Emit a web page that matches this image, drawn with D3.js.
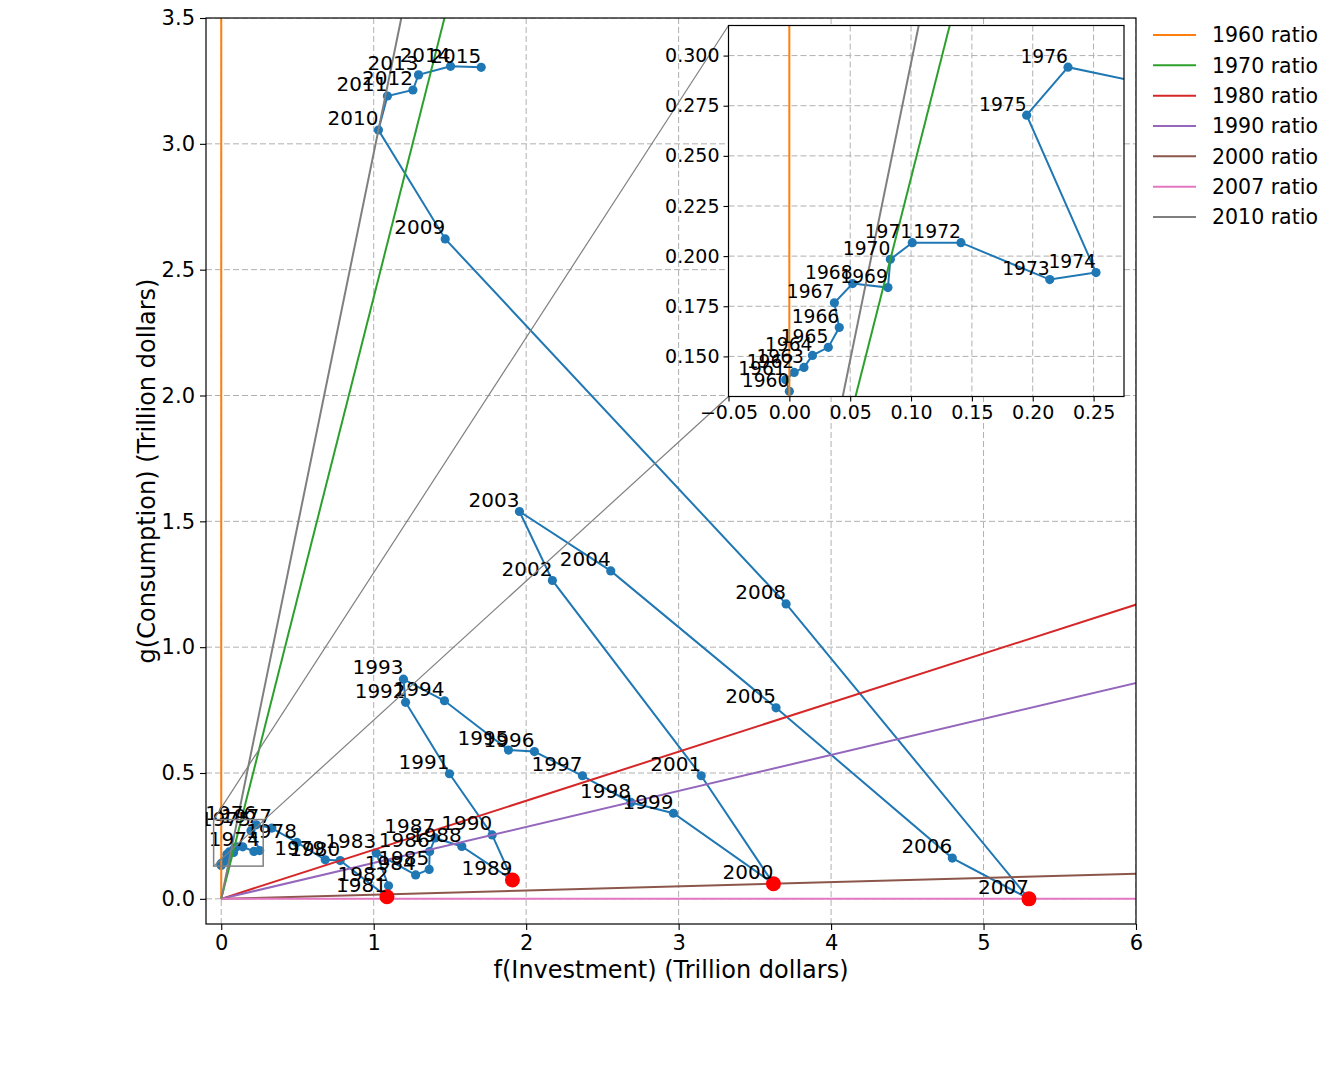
<!DOCTYPE html>
<html>
<head>
<meta charset="utf-8">
<script src="https://cdn.jsdelivr.net/npm/d3@7"></script>
<style>
  body { margin: 0; background: #ffffff; }
  svg { font-family: 'DejaVu Sans', sans-serif; }
</style>
</head>
<body>
<div id="chart"></div>
<script>
const years = [1960, 1961, 1962, 1963, 1964, 1965, 1966, 1967, 1968, 1969,
    1970, 1971, 1972, 1973, 1974, 1975, 1976, 1977, 1978, 1979,
    1980, 1981, 1982, 1983, 1984, 1985, 1986, 1987, 1988, 1989,
    1990, 1991, 1992, 1993, 1994, 1995, 1996, 1997, 1998, 1999,
    2000, 2001, 2002, 2003, 2004, 2005, 2006, 2007, 2008, 2009,
    2010, 2011, 2012, 2013, 2014, 2015];

// f(Investment), trillion dollars
const investment = [0.000, -0.003, 0.004, 0.012, 0.019, 0.032, 0.041, 0.037, 0.052, 0.081,
    0.083, 0.101, 0.141, 0.214, 0.252, 0.195, 0.229, 0.332, 0.496, 0.682,
    0.780, 1.087, 1.097, 1.016, 1.275, 1.364, 1.367, 1.403, 1.578, 1.910,
    1.777, 1.497, 1.209, 1.195, 1.464, 1.884, 2.054, 2.369, 2.687, 2.966,
    3.622, 3.148, 2.172, 1.956, 2.555, 3.639, 4.795, 5.298, 3.705, 1.469,
    1.031, 1.090, 1.257, 1.294, 1.504, 1.705];

// g(Consumption), trillion dollars
const consumption = [0.1326, 0.1384, 0.1420, 0.1445, 0.1505, 0.1545, 0.1644, 0.1767, 0.1863, 0.1843,
    0.1984, 0.2067, 0.2067, 0.1883, 0.1918, 0.2703, 0.2942, 0.281, 0.224, 0.155,
    0.152, 0.008, 0.052, 0.182, 0.095, 0.117, 0.188, 0.242, 0.208, 0.075,
    0.254, 0.497, 0.781, 0.873, 0.787, 0.591, 0.585, 0.489, 0.383, 0.340,
    0.060, 0.489, 1.265, 1.539, 1.303, 0.759, 0.162, 0.000, 1.172, 2.622,
    3.055, 3.190, 3.214, 3.274, 3.308, 3.304];

const ratioYears = [1960, 1970, 1980, 1990, 2000, 2007, 2010];
const ratioColors = ['#ff7f0e', '#2ca02c', '#d62728', '#9467bd', '#8c564b', '#e377c2', '#7f7f7f'];
const redYears = [1981, 1989, 2000, 2007];
// the main panel only names the years from here on, the inset has the rest
const mainLabelFrom = 1974;

const mainXTicks = [0, 1, 2, 3, 4, 5, 6];
const mainYTicks = [0, 0.5, 1.0, 1.5, 2.0, 2.5, 3.0, 3.5];
const insetXTicks = [-0.05, 0, 0.05, 0.10, 0.15, 0.20, 0.25];
const insetYTicks = [0.150, 0.175, 0.200, 0.225, 0.250, 0.275, 0.300];

const xLabel = 'f(Investment) (Trillion dollars)';
const yLabel = 'g(Consumption) (Trillion dollars)';

const points = years.map((yr, i) => ({year: yr, x: investment[i], y: consumption[i]}));
const byYear = new Map(points.map((p) => [p.year, p]));

const svg = d3.select('#chart').append('svg')
    .attr('version', 1.1)
    .attr('xmlns', 'http://www.w3.org/2000/svg')
    .attr('width', 1338)
    .attr('height', 1084);

svg.append('rect').attr('width', 1338).attr('height', 1084).attr('fill', '#ffffff');

const mainBox = {left: 206, top: 18, width: 930, height: 906};
const insetBox = {left: 728.5, top: 25.5, width: 395.5, height: 371};

const x = d3.scaleLinear().domain([-0.1, 6]).range([0, mainBox.width]);
const y = d3.scaleLinear().domain([-0.1, 3.5]).range([mainBox.height, 0]);
const xi = d3.scaleLinear().domain([-0.05, 0.275]).range([0, insetBox.width]);
const yi = d3.scaleLinear().domain([0.13, 0.315]).range([insetBox.height, 0]);

function ratioEnd(p) {
    if (p.x === 0) return {x: 0, y: 10};
    if (p.y === 0) return {x: 10, y: 0};
    let t = 10 / Math.max(p.x, p.y);
    return {x: p.x * t, y: p.y * t};
}

function inside(sx, sy, d) {
    let [x0, x1] = sx.domain(), [y0, y1] = sy.domain();
    return d.x >= x0 && d.x <= x1 && d.y >= y0 && d.y <= y1;
}

function panel(id, box, sx, sy, xt, yt, fmt) {
    let g = svg.append('g')
        .attr('transform', 'translate(' + box.left + ',' + box.top + ')');

    svg.append('clipPath').attr('id', id)
        .append('rect').attr('width', box.width).attr('height', box.height);

    g.append('rect')
        .attr('width', box.width)
        .attr('height', box.height)
        .attr('fill', '#ffffff');

    let body = g.append('g').attr('clip-path', 'url(#' + id + ')');

    body.selectAll('.vgrid').data(xt).enter().append('line')
        .attr('x1', sx).attr('x2', sx)
        .attr('y1', 0).attr('y2', box.height)
        .attr('stroke', '#b0b0b0').attr('stroke-width', 1)
        .attr('stroke-dasharray', '6,3');

    body.selectAll('.hgrid').data(yt).enter().append('line')
        .attr('y1', sy).attr('y2', sy)
        .attr('x1', 0).attr('x2', box.width)
        .attr('stroke', '#b0b0b0').attr('stroke-width', 1)
        .attr('stroke-dasharray', '6,3');

    let line = d3.line()
        .x((d) => sx(d.x))
        .y((d) => sy(d.y));

    body.append('path').datum(points)
        .attr('fill', 'none')
        .attr('stroke', '#1f77b4')
        .attr('stroke-width', 2)
        .attr('d', line);

    body.selectAll('.pt').data(points).enter().append('circle')
        .attr('cx', (d) => sx(d.x))
        .attr('cy', (d) => sy(d.y))
        .attr('r', 4.6)
        .attr('fill', '#1f77b4');

    ratioYears.forEach((yr, i) => {
        let p = byYear.get(yr);
        body.append('path').datum([{x: 0, y: 0}, ratioEnd(p)])
            .attr('fill', 'none')
            .attr('stroke', ratioColors[i])
            .attr('stroke-width', 2)
            .attr('d', line);
    });

    body.selectAll('.red').data(redYears.map((yr) => byYear.get(yr))).enter().append('circle')
        .attr('cx', (d) => sx(d.x))
        .attr('cy', (d) => sy(d.y))
        .attr('r', 7.5)
        .attr('fill', '#ff0000');

    body.selectAll('.lab')
        .data(points.filter((d) => d.year >= fmt.labelFrom && inside(sx, sy, d)))
        .enter().append('text')
        .attr('x', (d) => sx(d.x))
        .attr('y', (d) => sy(d.y) - 0.236 * fmt.labelSize)
        .attr('text-anchor', 'end')
        .attr('font-size', fmt.labelSize)
        .attr('fill', '#000000')
        .text((d) => d.year);

    let bottom = g.append('g')
        .attr('transform', 'translate(0,' + box.height + ')')
        .call(d3.axisBottom(sx).tickValues(xt).tickFormat(d3.format(fmt.xfmt))
            .tickSize(fmt.tickLen).tickPadding(fmt.tickPad).tickSizeOuter(0))
        .attr('font-family', 'DejaVu Sans')
        .attr('font-size', fmt.tickSize);
    bottom.select('.domain').remove();
    bottom.selectAll('.tick line').attr('stroke-width', 1.1);

    let left = g.append('g')
        .call(d3.axisLeft(sy).tickValues(yt).tickFormat(d3.format(fmt.yfmt))
            .tickSize(fmt.tickLen).tickPadding(fmt.tickPad).tickSizeOuter(0))
        .attr('font-family', 'DejaVu Sans')
        .attr('font-size', fmt.tickSize);
    left.select('.domain').remove();
    left.selectAll('.tick line').attr('stroke-width', 1.1);

    g.append('rect')
        .attr('width', box.width)
        .attr('height', box.height)
        .attr('fill', 'none')
        .attr('stroke', '#000000')
        .attr('stroke-width', 1.2);

    return g;
}

let mainG = panel('clip-main', mainBox, x, y, mainXTicks, mainYTicks,
    {labelSize: 20, labelFrom: mainLabelFrom, tickSize: 21, tickLen: 6, tickPad: 5, xfmt: 'd', yfmt: '.1f'});

// zoomed area and connectors
let zx0 = mainBox.left + x(xi.domain()[0]);
let zy0 = mainBox.top + y(yi.domain()[0]), zy1 = mainBox.top + y(yi.domain()[1]);

mainG.append('rect')
    .attr('x', x(xi.domain()[0]))
    .attr('y', y(yi.domain()[1]))
    .attr('width', x(xi.domain()[1]) - x(xi.domain()[0]))
    .attr('height', y(yi.domain()[0]) - y(yi.domain()[1]))
    .attr('fill', 'none')
    .attr('stroke', '#808080')
    .attr('stroke-width', 1.5);

svg.append('line')
    .attr('x1', zx0).attr('y1', zy0)
    .attr('x2', insetBox.left).attr('y2', insetBox.top + insetBox.height)
    .attr('stroke', '#808080').attr('stroke-width', 1.2);
svg.append('line')
    .attr('x1', zx0).attr('y1', zy1)
    .attr('x2', insetBox.left).attr('y2', insetBox.top)
    .attr('stroke', '#808080').attr('stroke-width', 1.2);

panel('clip-inset', insetBox, xi, yi, insetXTicks, insetYTicks,
    {labelSize: 18.7, labelFrom: years[0], tickSize: 19, tickLen: 5, tickPad: 4, xfmt: '.2f', yfmt: '.3f'});

svg.append('text')
    .attr('x', mainBox.left + mainBox.width / 2)
    .attr('y', 978)
    .attr('text-anchor', 'middle')
    .attr('font-size', 24)
    .text(xLabel);

svg.append('text')
    .attr('transform', 'translate(155,' + (mainBox.top + mainBox.height / 2) + ') rotate(-90)')
    .attr('text-anchor', 'middle')
    .attr('font-size', 24)
    .text(yLabel);

let legend = svg.append('g').attr('transform', 'translate(1153,35)');

ratioYears.forEach((yr, i) => {
    let row = legend.append('g').attr('transform', 'translate(0,' + (i * 30.33) + ')');
    row.append('line')
        .attr('x1', 0).attr('x2', 43)
        .attr('stroke', ratioColors[i])
        .attr('stroke-width', 2);
    row.append('text')
        .attr('x', 59)
        .attr('dy', '0.35em')
        .attr('font-size', 20.5)
        .text(yr + ' ratio');
});
</script>
</body>
</html>
